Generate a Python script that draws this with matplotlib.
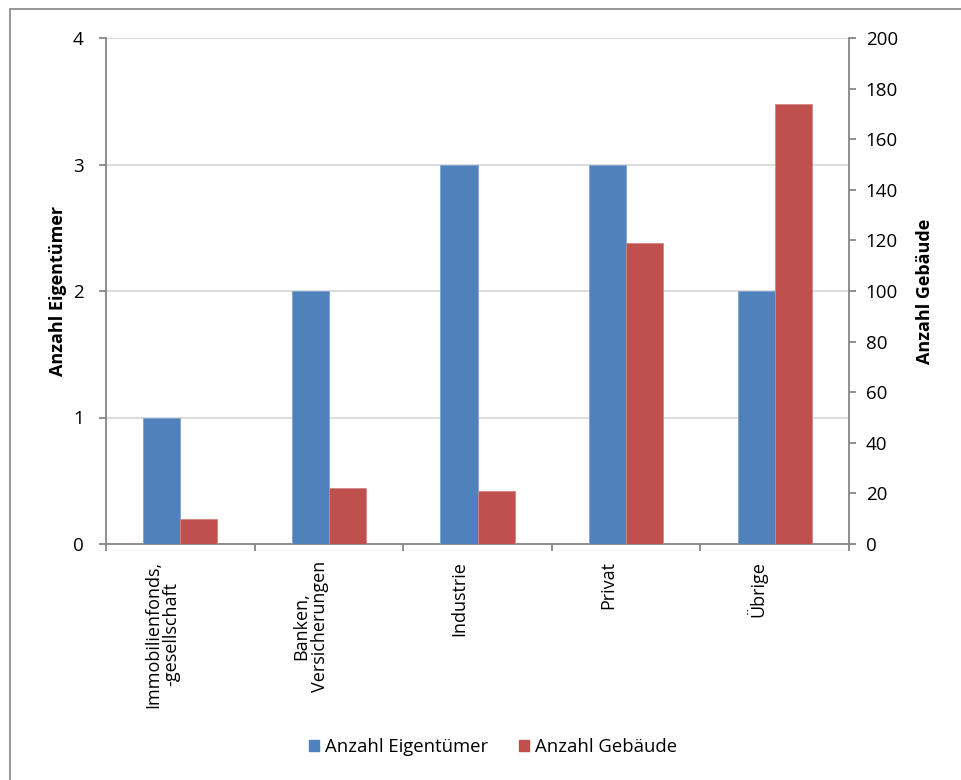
import matplotlib.pyplot as plt
import matplotlib.patches as mpatches
import matplotlib.transforms as mtransforms
import numpy as np

categories = ["Immobilienfonds,\n-gesellschaft", "Banken,\nVersicherungen", "Industrie", "Privat", "Übrige"]
eigentuemer = [1, 2, 3, 3, 2]
gebaeude = [10, 22, 21, 119, 174]
left_ticks = [0, 1, 2, 3, 4]
right_ticks = [0, 20, 40, 60, 80, 100, 120, 140, 160, 180, 200]

plt.rcParams['font.family'] = ['Open Sans', 'DejaVu Sans']

W, H = 961, 780
fig = plt.figure(figsize=(W / 100, H / 100), dpi=100)

# outer chart frame (right/bottom edges run off the canvas)
frame = mpatches.Rectangle((9.5 / W, -0.1), 1.2, 1 - 9.5 / H + 0.1,
                           transform=fig.transFigure, fill=False,
                           edgecolor='#8c8c8c', linewidth=1.3)
fig.patches.append(frame)

ax_l, ax_r, ax_t, ax_b = 106, 849, 38, 544
aw = ax_r - ax_l
ax = fig.add_axes([ax_l / W, 1 - ax_b / H, aw / W, (ax_b - ax_t) / H])
ax2 = ax.twinx()

spine_c = '#868686'
grid_c = '#d9d9d9'
blue = '#4f81bd'
red = '#c0504d'

x = np.arange(len(categories))
bw = 0.25
ax.bar(x - bw / 2, eigentuemer, width=bw, color=blue, edgecolor='#7fa3d2',
       linewidth=0.6, zorder=3, label='Anzahl Eigentümer')
ax2.bar(x + bw / 2, gebaeude, width=bw, color=red, edgecolor='#d58583',
        linewidth=0.6, zorder=3, label='Anzahl Gebäude')

ax.set_xlim(-0.5, len(categories) - 0.5)
ax.set_ylim(0, 4)
ax2.set_ylim(0, 200)
ax.set_yticks(left_ticks)
ax2.set_yticks(right_ticks)

ax.yaxis.grid(True, color=grid_c, linewidth=1.3, zorder=0)
ax.set_axisbelow(True)

for a in (ax, ax2):
    for s in a.spines.values():
        s.set_visible(False)
for a, side in ((ax, 'left'), (ax, 'bottom'), (ax2, 'right')):
    a.spines[side].set_visible(True)
    a.spines[side].set_color(spine_c)
    a.spines[side].set_linewidth(1.3)

# category labels (shifted slightly left of the group centre); tick marks between groups
ax.set_xticks(x)
ax.tick_params(axis='x', which='major', length=0, pad=12, labelsize=13)
ax.set_xticklabels(categories, rotation=90, va='top', ha='center',
                   multialignment='center', linespacing=1.05)
shift = mtransforms.ScaledTranslation(-18 / 100, 0, fig.dpi_scale_trans)
for lbl in ax.get_xticklabels():
    lbl.set_transform(lbl.get_transform() + shift)
ax.set_xticks(np.arange(-0.5, len(categories) + 0.5, 1), minor=True)
ax.tick_params(axis='x', which='minor', length=5, color=spine_c, width=1.3)

ax.tick_params(axis='y', length=5, color=spine_c, width=1.3, labelsize=13.5, pad=11)
ax2.tick_params(axis='y', length=5, color=spine_c, width=1.3, labelsize=13.5, pad=7)

ax.set_ylabel('Anzahl Eigentümer', fontsize=13, fontweight='bold',
              ha='center', va='center')
ax.yaxis.set_label_coords((58 - ax_l) / aw, 0.5)
ax2.set_ylabel('Anzahl Gebäude', fontsize=13, fontweight='bold',
               ha='center', va='center', rotation=90)
ax2.yaxis.set_label_coords((925 - ax_l) / aw, 0.5)

handles = [mpatches.Patch(color=blue, label='Anzahl Eigentümer'),
           mpatches.Patch(color=red, label='Anzahl Gebäude')]
fig.legend(handles=handles, loc='center', bbox_to_anchor=(493 / W, 1 - 747 / H),
           ncol=2, frameon=False, fontsize=13.3, handlelength=0.55, handleheight=0.55,
           handletextpad=0.3, columnspacing=1.7)

fig.savefig('out.png', dpi=100)
